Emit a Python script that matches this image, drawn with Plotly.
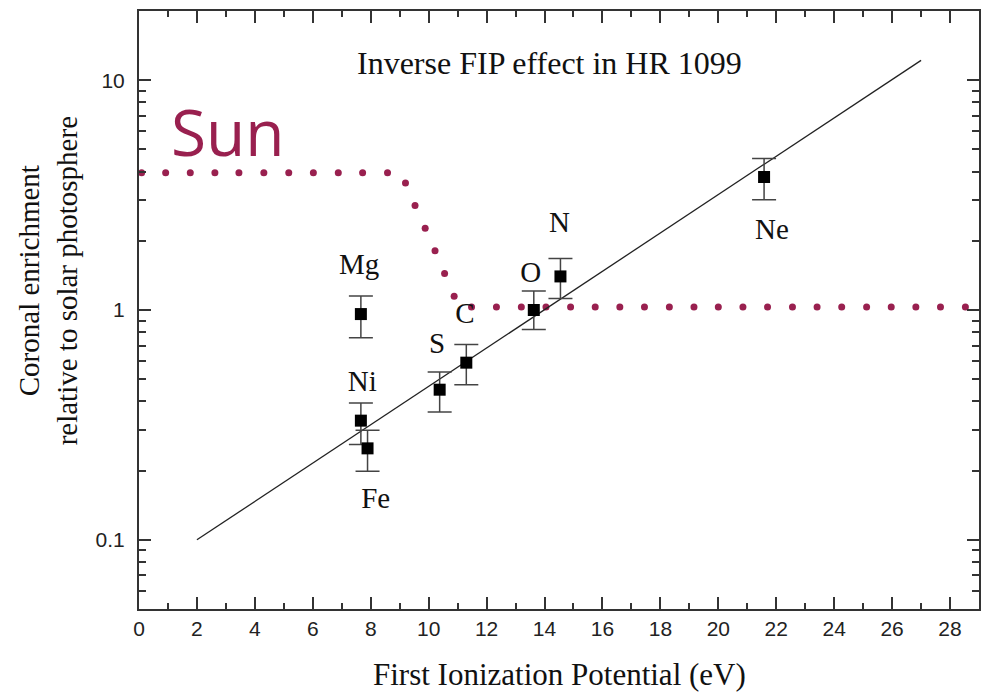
import plotly.graph_objects as go

# --- data ---
elements = ["Mg", "Ni", "Fe", "S", "C", "O", "N", "Ne"]
fip = [7.66, 7.66, 7.89, 10.38, 11.30, 13.63, 14.55, 21.58]
enrich = [0.96, 0.33, 0.25, 0.45, 0.59, 1.00, 1.40, 3.79]
err_hi = [1.15, 0.394, 0.30, 0.537, 0.707, 1.21, 1.675, 4.56]
err_lo = [0.758, 0.260, 0.199, 0.360, 0.473, 0.822, 1.121, 3.02]

label_x = [7.60, 7.71, 8.17, 10.29, 11.25, 13.52, 14.52, 21.85]
label_y = [1.535, 0.480, 0.148, 0.702, 0.948, 1.429, 2.36, 2.18]

fit_x = [2.0, 27.0]
fit_y = [0.10, 12.2]

sun_x = [0.09, 0.92, 1.77, 2.62, 3.45, 4.31, 5.17, 6.02, 6.88, 7.72, 8.58,
         9.20, 9.53, 9.88, 10.22, 10.55, 10.88,
         11.48, 12.34, 13.20, 14.05, 14.90, 15.75, 16.60, 17.45, 18.31, 19.16,
         20.00, 20.85, 21.70, 22.56, 23.41, 24.26, 25.12, 25.97, 26.82, 27.67, 28.53]
sun_y = [3.96] * 11 + [3.57, 2.85, 2.27, 1.81, 1.44, 1.147] + [1.03] * 21

x_ticks = [0, 2, 4, 6, 8, 10, 12, 14, 16, 18, 20, 22, 24, 26, 28]
y_ticks = [0.1, 1, 10]
y_ticktext = ["0.1", "1", "10"]
y_minor = [0.05, 0.06, 0.07, 0.08, 0.09, 0.2, 0.3, 0.4, 0.5, 0.6, 0.7, 0.8, 0.9,
           2, 3, 4, 5, 6, 7, 8, 9, 20]

SUN = "#99204F"
AX = "#333333"
SERIF = "Liberation Serif, Times New Roman, serif"
SANS = "Liberation Sans, Arial, sans-serif"

fig = go.Figure()

fig.add_trace(go.Scatter(
    x=sun_x, y=sun_y, mode="markers",
    marker=dict(symbol="circle", size=7, color=SUN, line=dict(width=0)),
    cliponaxis=False, showlegend=False, hoverinfo="skip"))

fig.add_trace(go.Scatter(
    x=fit_x, y=fit_y, mode="lines",
    line=dict(color="#222222", width=1.3),
    showlegend=False, hoverinfo="skip"))

fig.add_trace(go.Scatter(
    x=fip, y=enrich, mode="markers",
    marker=dict(symbol="square", size=12, color="black", line=dict(width=0)),
    error_y=dict(type="data", symmetric=False,
                 array=[h - v for h, v in zip(err_hi, enrich)],
                 arrayminus=[v - l for v, l in zip(enrich, err_lo)],
                 color="#444444", thickness=1.5, width=12),
    showlegend=False, text=elements))

fig.add_trace(go.Scatter(
    x=label_x, y=label_y, mode="text", text=elements,
    textfont=dict(family=SERIF, size=29, color="#111111"),
    textposition="middle center", showlegend=False, hoverinfo="skip"))

axis_common = dict(
    showline=True, linecolor=AX, linewidth=2, mirror="allticks",
    ticks="inside", ticklen=12, tickwidth=1.5, tickcolor=AX,
    showgrid=False, zeroline=False,
    tickfont=dict(family=SANS, size=21, color="#222222"),
)

fig.update_layout(
    width=990, height=695,
    margin=dict(l=139, r=9, t=11, b=86),
    paper_bgcolor="white", plot_bgcolor="white",
    xaxis=dict(range=[0, 29], tickvals=x_ticks,
               minor=dict(ticks="inside", ticklen=6, tickwidth=1.5, tickcolor=AX,
                          dtick=1, tick0=0, showgrid=False),
               **axis_common),
    yaxis=dict(type="log", range=[-1.30103, 1.30103], tickvals=y_ticks, ticktext=y_ticktext,
               ticklabelstandoff=8,
               minor=dict(ticks="inside", ticklen=7, tickwidth=1.5, tickcolor=AX,
                          tickvals=y_minor, showgrid=False),
               **axis_common),
    annotations=[
        dict(text="Inverse FIP effect in HR 1099", xref="paper", yref="paper",
             x=(550.5 - 139) / 842, y=(608.7 - 63) / 597.7, showarrow=False,
             font=dict(family=SERIF, size=32, color="#111111"),
             xanchor="center", yanchor="middle"),
        dict(text="Sun", xref="paper", yref="paper",
             x=(228 - 139) / 842, y=(608.7 - 131) / 597.7, showarrow=False,
             font=dict(family="Open Sans, sans-serif", size=64, color=SUN),
             xanchor="center", yanchor="middle"),
        dict(text="First Ionization Potential (eV)", xref="paper", yref="paper",
             x=(560 - 139) / 842, y=(608.7 - 674) / 597.7, showarrow=False,
             font=dict(family=SERIF, size=31, color="#111111"),
             xanchor="center", yanchor="middle"),
        dict(text="Coronal enrichment<br>relative to solar photosphere",
             xref="paper", yref="paper", textangle=-90,
             x=(48 - 139) / 842, y=(608.7 - 281) / 597.7, showarrow=False,
             font=dict(family=SERIF, size=29, color="#111111"),
             xanchor="center", yanchor="middle"),
    ],
)

fig.write_html("out.html")
